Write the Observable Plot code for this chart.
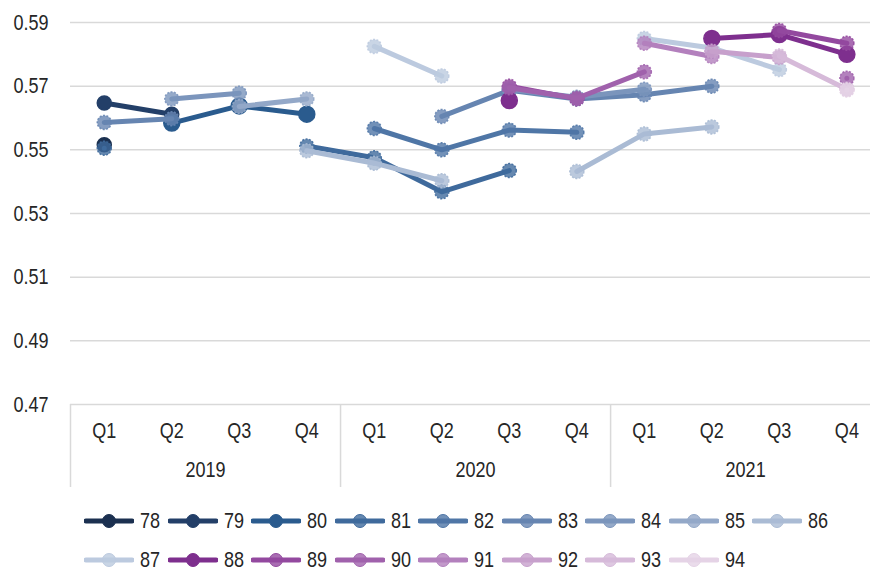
<!DOCTYPE html>
<html><head><meta charset="utf-8">
<script src="https://cdn.jsdelivr.net/npm/d3@7"></script>
<script src="https://cdn.jsdelivr.net/npm/@observablehq/plot@0.6"></script>
<style>
body{margin:0;background:#fff;font-family:"Liberation Sans",Arial,sans-serif;}
#chart svg{display:block;}
#legend{display:flex;flex-wrap:wrap;width:760px;padding-left:84px;margin-top:6px;}
.item{display:inline-flex;align-items:center;width:83.5px;height:39px;font-size:22px;color:#262626;}
.item svg{margin-right:6px;flex:none;}
.item span{display:inline-block;transform:scaleX(0.82);transform-origin:left center;}
</style></head><body>
<div id="chart"></div>
<div id="legend"></div>
<script>
const quarters = ["Q1","Q2","Q3","Q4"];
const years = ["2019","2020","2021"];
const yTicks = [0.47,0.49,0.51,0.53,0.55,0.57,0.59];
const seriesNames = ["78","79","80","81","82","83","84","85","86","87","88","89","90","91","92","93","94"];
const seriesColors = ["#1b3050","#233f68","#2a5b8e","#3f6a9c","#4f76a6","#6685b1","#7b95bc","#93a8c8","#aabbd4","#bccadf",
                      "#7e2f8e","#93499f","#a061ac","#b380bd","#c7a0cc","#d6bad9","#e5d3e6"];
// values per quarter: 2019 Q1..Q4, 2020 Q1..Q4, 2021 Q1..Q4
const v78 = [0.5516,null,null,null, null,null,null,null, null,null,null,null];
const v79 = [0.5647,0.5612,null,null, null,null,null,null, null,null,null,null];
const v80 = [null,0.5584,0.5638,0.5612, null,null,null,null, null,null,null,null];
const v81 = [0.5505,null,null,0.5512, 0.5475,0.5368,0.5435,null, null,null,null,null];
const v82 = [null,null,null,null, 0.5567,0.5500,0.5562,0.5555, null,null,null,null];
const v83 = [0.5586,0.5598,null,null, null,0.5605,0.5687,0.5660, 0.5673,0.5700,null,null];
const v84 = [null,0.5660,0.5678,null, null,null,0.5690,0.5665, 0.5690,null,null,null];
const v85 = [null,null,0.5636,0.5660, null,null,null,null, null,null,null,null];
const v86 = [null,null,null,0.5497, 0.5458,0.5403,null,0.5432, 0.5550,0.5572,null,null];
const v87 = [null,null,null,null, 0.5825,0.5732,null,null, 0.5850,0.5820,0.5752,null];
const v88 = [null,null,null,null, null,null,0.5655,null, null,0.5850,0.5862,0.5800];
const v89 = [null,null,null,null, null,null,0.5700,0.5660, null,null,0.5875,0.5835];
const v90 = [null,null,null,null, null,null,0.5695,0.5662, 0.5745,null,null,0.5725];
const v91 = [null,null,null,null, null,null,null,null, 0.5835,0.5793,null,null];
const v92 = [null,null,null,null, null,null,null,null, null,0.5810,0.5790,null];
const v93 = [null,null,null,null, null,null,null,null, null,null,0.5795,0.5690];
const v94 = [null,null,null,null, null,null,null,null, null,null,null,0.5688];
const seriesValues = [v78,v79,v80,v81,v82,v83,v84,v85,v86,v87,v88,v89,v90,v91,v92,v93,v94];

const solid = new Set(["78","79","80","88"]);
const bigDot = new Set(["80","88"]);
const marks = [
  Plot.gridY(yTicks, {stroke:"#d9d9d9", strokeOpacity:1, strokeWidth:1.5}),
  Plot.axisY(yTicks, {tickSize:0, tickPadding:22, tickFormat:d3.format(".2f"), fontSize:22, fill:"#262626", label:null}),
  Plot.axisX(d3.range(12), {tickSize:0, tickPadding:18, tickFormat:i=>quarters[i%4], fontSize:22, fill:"#262626", anchor:"bottom", label:null}),
  Plot.axisX(years.map((y,k)=>k*4+1.5), {tickSize:0, tickPadding:57, tickFormat:(v)=>years[Math.floor(v/4)], fontSize:22, fill:"#262626", anchor:"bottom", label:null}),
  Plot.axisX(years.map((y,k)=>k*4-0.5), {tickSize:83, tickFormat:()=>"", stroke:"#d9d9d9", strokeWidth:1.5, anchor:"bottom", label:null})
];
seriesNames.forEach((s, k) => {
  const rows = seriesValues[k].map((v, i) => ({series:s, i, value:v}));
  marks.push(Plot.line(rows, {x:"i", y:"value", stroke:seriesColors[k], strokeWidth:5}));
  marks.push(Plot.dot(rows.filter(d => d.value != null), {
    x:"i", y:"value", r: bigDot.has(s) ? 8 : 7,
    fill:seriesColors[k], fillOpacity: solid.has(s) ? 1 : 0.8,
    stroke:seriesColors[k], strokeWidth:1.5, strokeOpacity: solid.has(s) ? 1 : 0.9,
    strokeDasharray: solid.has(s) ? null : "2,1.5"
  }));
});

const chart = Plot.plot({
  width:870, height:495,
  marginTop:22, marginBottom:91, marginLeft:70, marginRight:0,
  style:{fontFamily:'"Liberation Sans",Arial,sans-serif', fontSize:"22px", background:"#fff"},
  x:{domain:[-0.5, 11.35], label:null},
  y:{domain:[0.47, 0.59], label:null},
  marks
});
// narrow the text glyphs (reference uses a narrow sans face)
chart.querySelectorAll("text").forEach(t => {
  const tr = t.getAttribute("transform");
  if (tr) t.setAttribute("transform", tr + " scale(0.82,1)");
});
document.getElementById("chart").appendChild(chart);

const legend = document.getElementById("legend");
seriesNames.forEach((s, k) => {
  const item = document.createElement("div");
  item.className = "item";
  const c = seriesColors[k];
  const op = solid.has(s) ? 1 : 0.8;
  item.innerHTML = `<svg width="50" height="20"><line x1="2" y1="10" x2="48" y2="10" stroke="${c}" stroke-width="5" stroke-linecap="round"/><circle cx="25" cy="10" r="6.5" fill="${c}" fill-opacity="${op}" stroke="${c}"/></svg><span>${s}</span>`;
  legend.appendChild(item);
});
</script>
</body></html>
